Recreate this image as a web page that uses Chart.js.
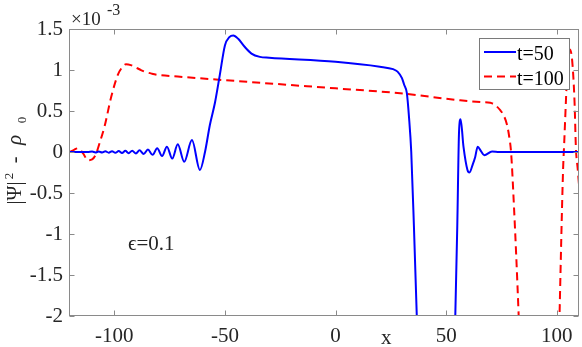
<!DOCTYPE html>
<html>
<head>
<meta charset="utf-8">
<script src="https://cdn.jsdelivr.net/npm/chart.js@4"></script>
<style>
html, body { margin: 0; padding: 0; background: #fff; }
</style>
</head>
<body>
<canvas id="chart" width="582" height="347"></canvas>
<script>
// values in units of 1e-3
const xTicks = [-100, -50, 0, 50, 100];
const yTicks = [1.5, 1, 0.5, 0, -0.5, -1, -1.5, -2];

const t50X = [-120, -112, -110, -108.5, -107, -105.5, -104, -102.5, -101, -99.5, -98, -96.5, -95, -93.5, -91.9, -90.2, -88.6, -86.7, -84.8, -82.7, -80.6, -78.4, -76.2, -73.8, -71.3, -68.4, -64.9, -61.3, -59, -56.8, -54.5, -52.3, -50, -48, -46.2, -44, -41, -38, -34.2, -30, 0, 20, 26, 28, 30, 31, 32.2, 33.2, 34.2, 35.4, 36.7, 38, 53, 54.1, 55, 55.8, 56.5, 57.8, 59.6, 60.5, 62, 63.1, 64.2, 65.7, 67.2, 70.7, 74, 110];
const t50Y = [0, 0, 0.005, -0.005, 0.006, -0.006, 0.008, -0.008, 0.01, -0.01, 0.012, -0.012, 0.014, -0.014, 0.016, -0.018, 0.02, -0.025, 0.03, -0.035, 0.045, -0.05, 0.065, -0.08, 0.094, -0.12, 0.146, -0.22, 0, 0.33, 0.6, 0.94, 1.3, 1.4, 1.42, 1.38, 1.28, 1.2, 1.16, 1.15, 1.10, 1.04, 1.01, 0.98, 0.9, 0.82, 0.72, 0.42, 0, -0.9, -2, -3.2, -3.2, -2, -0.9, 0.25, 0.4, 0.065, -0.22, -0.25, -0.15, -0.06, 0.065, 0.01, -0.04, 0.005, 0, 0];

const t100X = [-120, -118, -116.5, -114, -112, -110, -108.2, -106.5, -104.4, -101.4, -98.4, -96.5, -94.7, -92.5, -90.9, -88, -86.3, -83, -80.3, -71.3, -40, 0, 29.2, 56.3, 65.4, 69.9, 72.2, 74.4, 75.9, 77.5, 78.5, 79.3, 80.5, 82.7, 84, 100, 101.2, 102.8, 103.3, 104.3, 104.9, 105.8, 106.9, 108, 108.6, 109.4, 110];
const t100Y = [0, 0.03, 0.045, -0.02, -0.1, -0.09, -0.02, 0.12, 0.31, 0.67, 0.94, 1.03, 1.07, 1.06, 1.04, 1.0, 0.98, 0.955, 0.94, 0.92, 0.856, 0.776, 0.716, 0.63, 0.61, 0.60, 0.57, 0.51, 0.45, 0.33, 0.18, 0, -0.6, -1.97, -3, -3.5, -2, -0.22, 0.1, 0.76, 1.12, 1.25, 1.12, 0.6, 0.05, -0.2, -0.4];

const serif = "'Liberation Serif', serif";
const axisColor = '#8a8a8a';

function toPoints(xs, ys) {
    return xs.map((x, i) => ({ x: x, y: ys[i] }));
}

// rotated text piece centred at screen y = cy, offset dx from the label line
function vText(ctx, text, font, cy, dx) {
    ctx.save();
    ctx.translate(21 + dx, cy);
    ctx.rotate(-Math.PI / 2);
    ctx.font = font;
    ctx.textAlign = 'center';
    ctx.textBaseline = 'alphabetic';
    ctx.fillText(text, 0, 0);
    ctx.restore();
}

const frame = {
    id: 'frame',
    afterDraw(chart) {
        const ctx = chart.ctx;
        const a = chart.chartArea;
        const sx = chart.scales.x;
        const sy = chart.scales.y;
        const L = Math.round(a.left) - 0.5, R = Math.round(a.right) - 0.5;
        const T = Math.round(a.top) + 0.5, B = Math.round(a.bottom) - 0.5;
        ctx.save();
        ctx.strokeStyle = axisColor;
        ctx.lineWidth = 1;
        ctx.strokeRect(L, T, R - L, B - T);
        ctx.beginPath();
        xTicks.forEach(v => {
            const px = Math.round(sx.getPixelForValue(v)) + 0.5;
            ctx.moveTo(px, B); ctx.lineTo(px, B - 5);
            ctx.moveTo(px, T); ctx.lineTo(px, T + 5);
        });
        yTicks.forEach(v => {
            const py = Math.round(sy.getPixelForValue(v)) + 0.5;
            ctx.moveTo(L, py); ctx.lineTo(L + 5, py);
            ctx.moveTo(R, py); ctx.lineTo(R - 5, py);
        });
        ctx.stroke();

        ctx.fillStyle = '#262626';
        ctx.textBaseline = 'alphabetic';
        ctx.textAlign = 'left';
        // exponent
        ctx.font = '19px ' + serif;
        ctx.fillText('\u00d710', 71, 25);
        ctx.font = '16px ' + serif;
        ctx.fillText('-3', 107, 15);
        // x label
        ctx.font = '21px ' + serif;
        ctx.fillText('x', 381, 344);
        // annotation
        ctx.fillText('\u03f5=0.1', 128, 250);

        // y label |Psi|^2 - rho_0
        vText(ctx, '|\u03a8|', '20px ' + serif, 193, 0);
        vText(ctx, '2', '13px ' + serif, 176, -8);
        vText(ctx, '-', '20px ' + serif, 160, 0);
        vText(ctx, '\u03c1', 'italic 21px ' + serif, 140, 0);
        vText(ctx, '0', '13px ' + serif, 120, 5);

        // legend
        const lx = 479.5, ly = 38.5, lw = 90, lh = 51;
        ctx.fillStyle = '#fff';
        ctx.fillRect(lx, ly, lw, lh);
        ctx.strokeStyle = '#7a7a7a';
        ctx.lineWidth = 1;
        ctx.strokeRect(lx, ly, lw, lh);
        chart.data.datasets.forEach((ds, i) => {
            const yy = 52 + i * 24.5;
            ctx.beginPath();
            ctx.strokeStyle = ds.borderColor;
            ctx.lineWidth = ds.borderWidth;
            ctx.setLineDash(ds.borderDash || []);
            ctx.moveTo(484, yy); ctx.lineTo(516, yy);
            ctx.stroke();
            ctx.setLineDash([]);
            ctx.fillStyle = '#000';
            ctx.font = '20px ' + serif;
            ctx.textAlign = 'left';
            ctx.fillText(ds.label, 517, yy + 8);
        });
        ctx.restore();
    }
};

new Chart(document.getElementById('chart'), {
    type: 'line',
    data: {
        datasets: [{
            label: 't=50',
            data: toPoints(t50X, t50Y),
            borderColor: '#0000ff',
            borderWidth: 2,
            pointRadius: 0,
            cubicInterpolationMode: 'monotone',
            fill: false
        }, {
            label: 't=100',
            data: toPoints(t100X, t100Y),
            borderColor: '#ff0000',
            borderWidth: 2,
            borderDash: [8, 5],
            pointRadius: 0,
            cubicInterpolationMode: 'monotone',
            fill: false
        }]
    },
    options: {
        responsive: false,
        devicePixelRatio: 1,
        animation: false,
        layout: { padding: { top: 29, right: 3, left: 0, bottom: 0 } },
        plugins: { legend: { display: false }, tooltip: { enabled: false } },
        scales: {
            x: {
                type: 'linear',
                min: -120,
                max: 110,
                afterBuildTicks: s => { s.ticks = xTicks.map(v => ({ value: v })); },
                afterFit: s => { s.height = 31; },
                grid: { display: false, drawTicks: false, tickLength: 0 },
                border: { display: false },
                ticks: {
                    padding: 8,
                    maxRotation: 0,
                    autoSkip: false,
                    color: '#262626',
                    font: { family: serif, size: 21 },
                    callback: v => String(v)
                }
            },
            y: {
                type: 'linear',
                min: -2,
                max: 1.5,
                afterBuildTicks: s => { s.ticks = yTicks.map(v => ({ value: v })); },
                afterFit: s => { s.width = 70; },
                grid: { display: false, drawTicks: false, tickLength: 0 },
                border: { display: false },
                ticks: {
                    padding: 7,
                    autoSkip: false,
                    color: '#262626',
                    font: { family: serif, size: 21 },
                    callback: v => String(v)
                }
            }
        }
    },
    plugins: [frame]
});
</script>
</body>
</html>
